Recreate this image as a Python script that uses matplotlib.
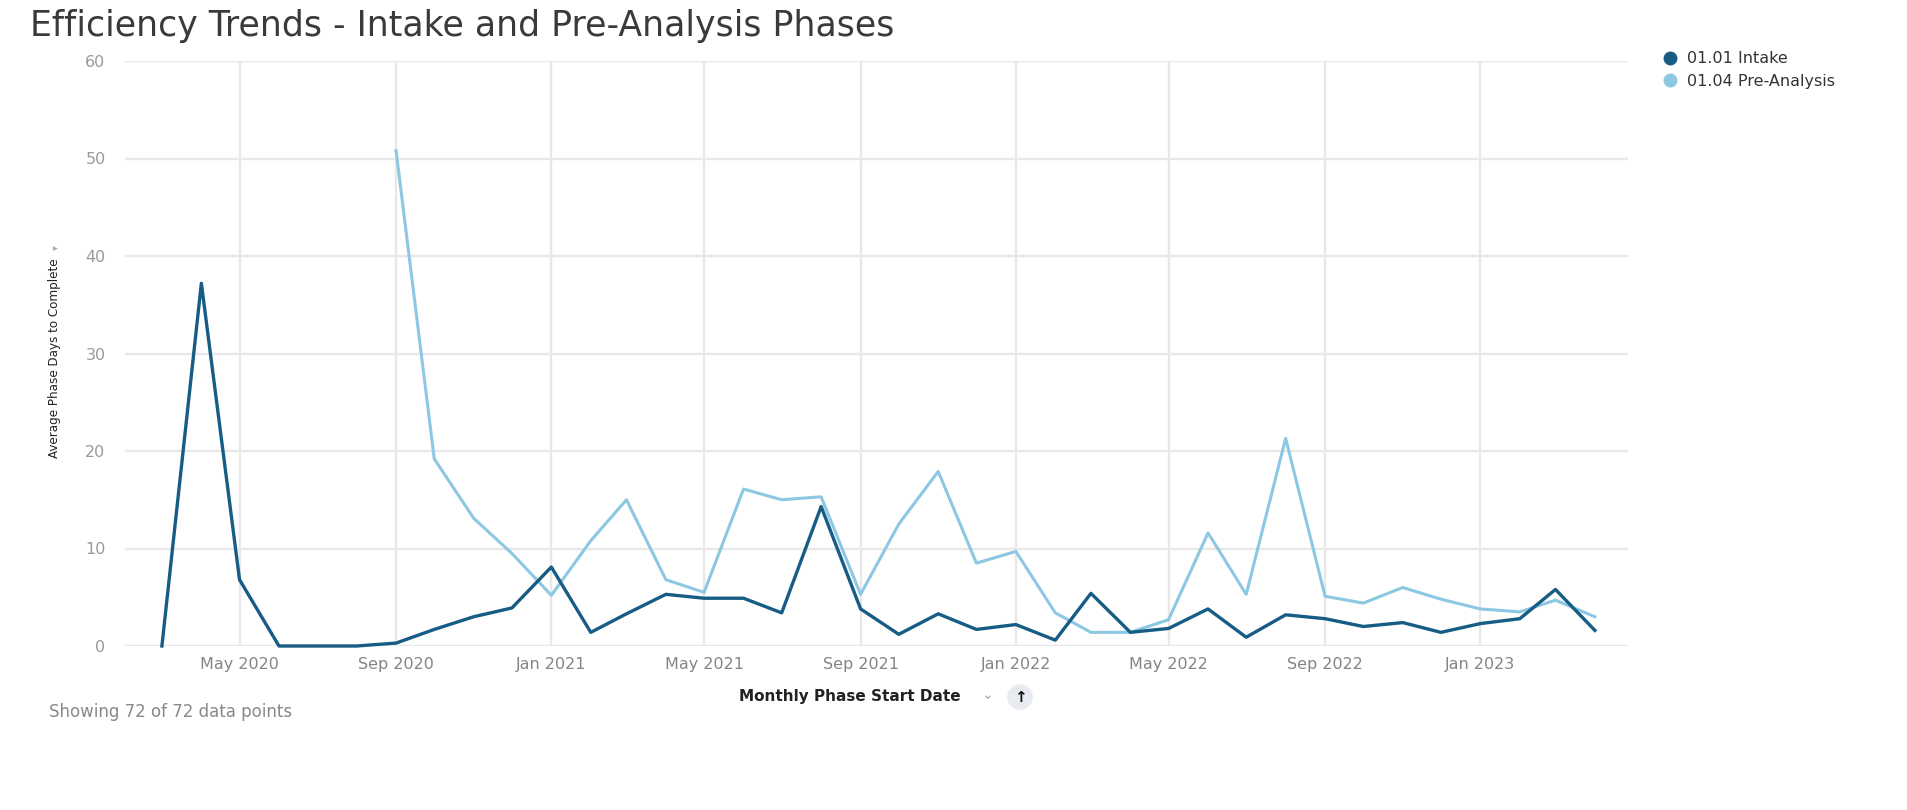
import pandas as pd
import matplotlib.pyplot as plt
import matplotlib.dates as mdates
from matplotlib.lines import Line2D

plt.rcParams['font.family'] = ['DejaVu Sans']

# monthly averages
intake_months = pd.date_range('2020-03-01', '2023-04-01', freq='MS')
intake_days = [0, 37.2, 6.8, 0, 0, 0, 0.3, 1.7, 3.0, 3.9,
               8.1, 1.4, 3.3, 5.3, 4.9, 4.9, 3.4, 14.3, 3.8, 1.2, 3.3, 1.7,
               2.2, 0.6, 5.4, 1.4, 1.8, 3.8, 0.9, 3.2, 2.8, 2.0, 2.4, 1.4,
               2.3, 2.8, 5.8, 1.6]

pre_months = pd.date_range('2020-09-01', '2023-04-01', freq='MS')
pre_days = [50.8, 19.2, 13.1, 9.5,
            5.2, 10.8, 15.0, 6.8, 5.5, 16.1, 15.0, 15.3, 5.3, 12.5, 17.9, 8.5,
            9.7, 3.4, 1.4, 1.4, 2.7, 11.6, 5.3, 21.3, 5.1, 4.4, 6.0, 4.8,
            3.8, 3.5, 4.7, 3.0]

series_names = ['01.01 Intake', '01.04 Pre-Analysis']
colors = ['#165c84', '#8cc7e3']
y_ticks = [0, 10, 20, 30, 40, 50, 60]

fig = plt.figure(figsize=(19.08, 8.10), dpi=100)
ax = fig.add_axes([125 / 1908, 1 - 646 / 810, 1503 / 1908, 585 / 810])

ax.plot(pre_months, pre_days, color=colors[1], lw=2.2, zorder=3, clip_on=False)
ax.plot(intake_months, intake_days, color=colors[0], lw=2.4, zorder=4, clip_on=False)

ax.set_ylim(0, 60)
ax.set_yticks(y_ticks)
ax.set_xlim(pd.Timestamp('2020-02-01'), pd.Timestamp('2023-04-27'))
ax.xaxis.set_major_locator(mdates.MonthLocator(bymonth=[1, 5, 9]))
ax.xaxis.set_major_formatter(mdates.DateFormatter('%b %Y'))

ax.grid(True, color='#e8e8e8', lw=1.7, zorder=0)
for s in ax.spines.values():
    s.set_visible(False)
ax.tick_params(length=0, labelsize=11.5)
ax.tick_params(axis='y', pad=14, colors='#9a9a9a')
ax.tick_params(axis='x', pad=8, colors='#858585')

fig.text(30 / 1908, 1 - 26 / 810, 'Efficiency Trends - Intake and Pre-Analysis Phases',
         fontsize=25, color='#3a3a3a', va='center', ha='left')

fig.text(55 / 1908, 1 - 358 / 810, 'Average Phase Days to Complete',
         rotation=90, ha='center', va='center', fontsize=9.5, color='#222222',
         fontstretch='condensed')
fig.text(55 / 1908, 1 - 248 / 810, '▾', rotation=90, ha='center', va='center',
         fontsize=7, color='#aaaaaa')

fig.text(850 / 1908, 1 - 697 / 810, 'Monthly Phase Start Date', ha='center', va='center',
         fontsize=11, fontweight='bold', color='#222222')
fig.text(987 / 1908, 1 - 695 / 810, '⌄', ha='center', va='center',
         fontsize=10, color='#aaaaaa')
fig.text(1020 / 1908, 1 - 697 / 810, '↑', ha='center', va='center', fontsize=11,
         fontweight='bold', color='#111111',
         bbox=dict(boxstyle='circle,pad=0.35', fc='#e8ecf1', ec='none'))

fig.text(49 / 1908, 1 - 712 / 810, 'Showing 72 of 72 data points', ha='left', va='center',
         fontsize=12, color='#888888')

handles = [Line2D([], [], ls='none', marker='o', ms=9, color=c) for c in colors]
fig.legend(handles, series_names, loc='upper left',
           bbox_to_anchor=(1648 / 1908, 1 - 37 / 810), frameon=False,
           fontsize=11.5, handletextpad=0.55, labelspacing=0.45,
           handlelength=1.0, labelcolor='#333333')

fig.savefig('out.png', dpi=100)
